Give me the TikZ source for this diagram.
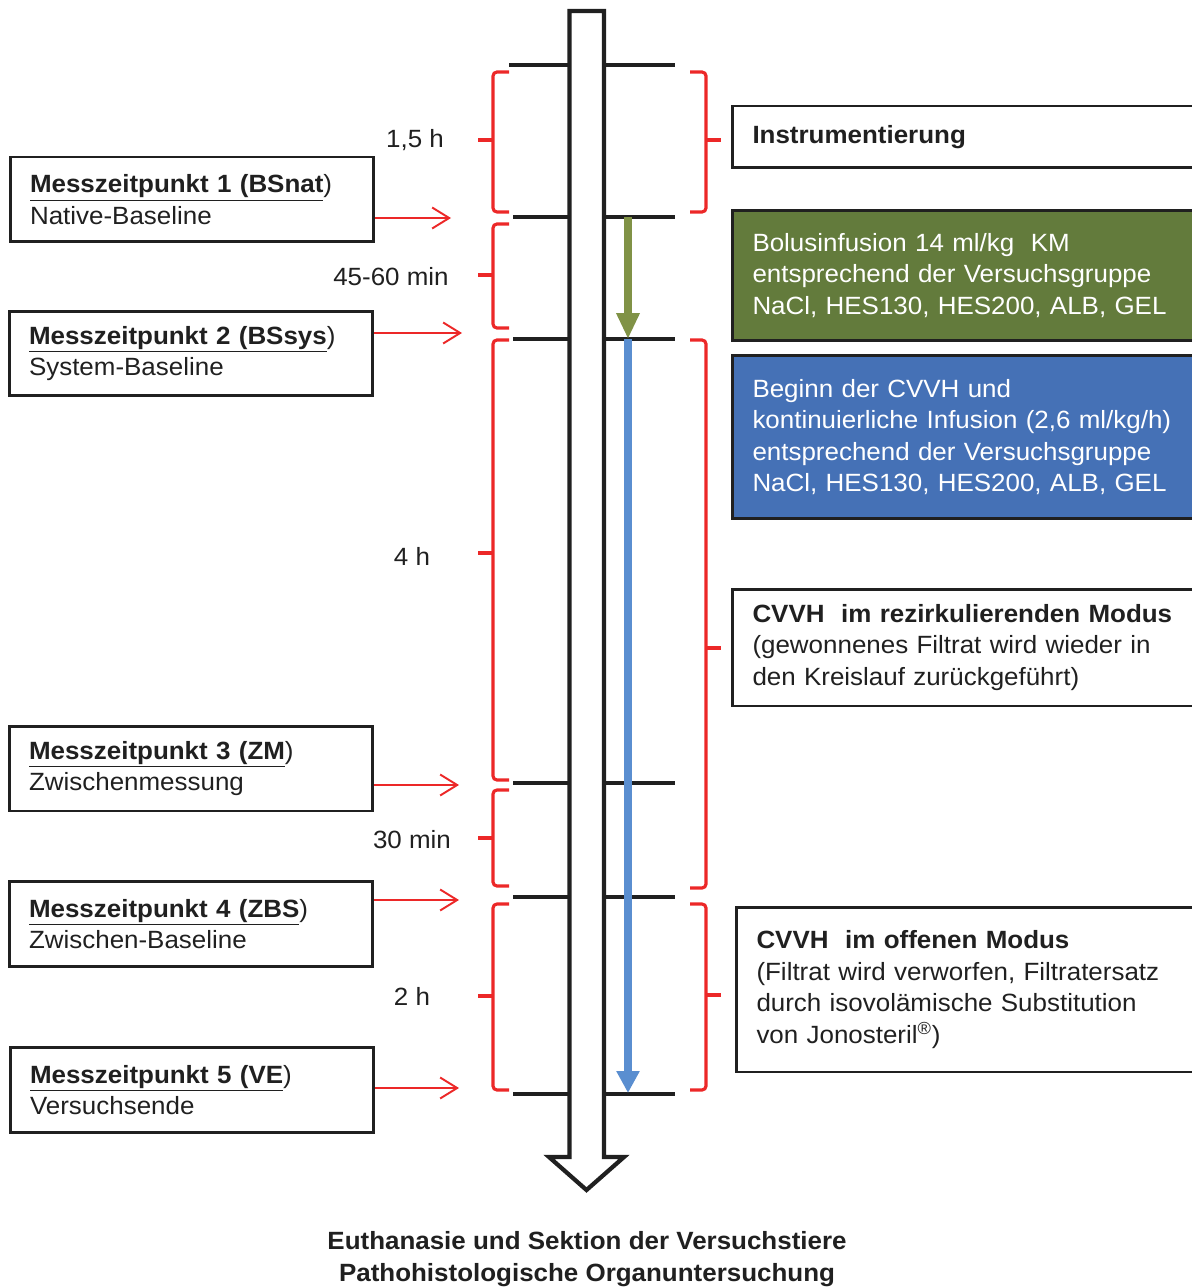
\documentclass[tikz,border=0pt]{standalone}
\usepackage{fontspec}
\setmainfont{Liberation Sans}[FakeStretch=1.04]
\usetikzlibrary{arrows.meta}
\definecolor{ink}{RGB}{32,32,32}
\definecolor{tred}{RGB}{236,40,40}
\definecolor{bolusgreen}{RGB}{99,123,60}
\definecolor{cvvhblue}{RGB}{69,113,182}
\definecolor{arrowgreen}{RGB}{128,146,70}
\definecolor{arrowblue}{RGB}{90,142,208}

\begin{document}
\begin{tikzpicture}[x=0.02cm,y=-0.02cm,
  font=\fontsize{14.2pt}{18pt}\selectfont,
  mzp/.style={draw=ink,line width=1.7pt,text width=6.48cm,inner xsep=0.4cm,
    inner ysep=0pt,minimum height=1.7cm,align=left,text=ink},
  phase/.style={draw=ink,line width=1.7pt,text width=8.8cm,inner xsep=0.4cm,
    inner ysep=0pt,align=left,anchor=west,text=ink},
  tick/.style={draw=ink,line width=2pt},
  klammer/.style={draw=tred,line width=1.8pt,rounded corners=0.08cm},
  zeiger/.style={draw=tred,line width=1.1pt,-{Straight Barb[length=0.34cm,width=0.42cm]}}]
\useasboundingbox (0,0) rectangle (1192,1287);

% timeline ticks
\foreach \y/\x in {65/509,217/513,339/513,783/513,897/513,1094/513}
  \draw[tick] (\x,\y) -- (570,\y) (604,\y) -- (675,\y);

% main time arrow
\draw[ink,line width=2.4pt,fill=white] (569.5,11) -- (604,11) -- (604,1157)
  -- (624,1157) -- (586.5,1190) -- (549,1157) -- (569.5,1157) -- cycle;

% braces
\foreach \a/\b/\c in {72/140/212,224/275/328,340/553/780,790/838/886,904/996/1090}{
  \draw[klammer] (509,\a) -- (493,\a) -- (493,\c) -- (509,\c);
  \draw[tred,line width=1.8pt] (493,\b) -- (478,\b);
}
\foreach \a/\b/\c in {72/140/212,340/648/888,904/995/1090}{
  \draw[klammer] (690,\a) -- (706,\a) -- (706,\c) -- (690,\c);
  \draw[tred,line width=1.8pt] (706,\b) -- (721,\b);
}

% durations
\node[text=ink] (d1) at (415,140) {1,5 h};
\node[text=ink] (d2) at (391,277) {45-60 min};
\node[text=ink] (d3) at (412,556) {4 h};
\node[text=ink] (d4) at (412,840) {30 min};
\node[text=ink] (d5) at (412,996) {2 h};

% measuring points
\node[mzp] (m1) at (192,199.5) {\underline{\textbf{Messzeitpunkt 1 (BSnat}})\\Native-Baseline};
\node[mzp] (m2) at (191,353.5) {\underline{\textbf{Messzeitpunkt 2 (BSsys}})\\System-Baseline};
\node[mzp] (m3) at (191,768.5) {\underline{\textbf{Messzeitpunkt 3 (ZM}})\\Zwischenmessung};
\node[mzp] (m4) at (191,924) {\underline{\textbf{Messzeitpunkt 4 (ZBS}})\\Zwischen-Baseline};
\node[mzp] (m5) at (192,1090) {\underline{\textbf{Messzeitpunkt 5 (VE}})\\Versuchsende};

\coordinate (p1) at (451,218);
\coordinate (p2) at (462,333);
\coordinate (p3) at (459,785);
\coordinate (p4) at (459,900);
\coordinate (p5) at (459,1088);
\foreach \i in {1,...,5}
  \draw[zeiger] (m\i.east |- p\i) -- (p\i);

% phases
\node[phase,minimum height=1.24cm] (instr) at (731,137) {\textbf{Instrumentierung}};
\node[phase,minimum height=2.62cm,fill=bolusgreen,text=white] (bolus) at (731,275.5)
  {Bolusinfusion 14 ml/kg\ \ KM\\entsprechend der Versuchsgruppe\\NaCl, HES130, HES200, ALB, GEL};
\node[phase,minimum height=3.28cm,fill=cvvhblue,text=white] (cvvh) at (731,437)
  {Beginn der CVVH und\\kontinuierliche Infusion (2,6 ml/kg/h)\\entsprechend der Versuchsgruppe\\NaCl, HES130, HES200, ALB, GEL};
\node[phase,minimum height=2.34cm] (rezirk) at (731,647.5)
  {\textbf{CVVH\ \ im rezirkulierenden Modus}\\(gewonnenes Filtrat wird wieder in\\den Kreislauf zurückgeführt)};
\node[phase,minimum height=3.3cm] (offen) at (735,989.5)
  {\textbf{CVVH\ \ im offenen Modus}\\(Filtrat wird verworfen, Filtratersatz\\durch isovolämische Substitution\\von Jonosteril\textsuperscript{\textregistered})};

% infusion arrows
\coordinate (k2) at (628,217);
\coordinate (k3) at (628,339);
\coordinate (k6) at (628,1093);
\draw[arrowgreen,line width=4pt,-{Triangle[length=0.52cm,width=0.44cm]}] (k2) -- (k3);
\draw[arrowblue,line width=4pt,-{Triangle[length=0.44cm,width=0.44cm]}] (k3) -- (k6);

\node[font={\fontsize{14.2pt}{18.2pt}\selectfont\bfseries},align=center,text=ink] (ende) at (587,1259)
  {Euthanasie und Sektion der Versuchstiere\\Pathohistologische Organuntersuchung};
\end{tikzpicture}
\end{document}
